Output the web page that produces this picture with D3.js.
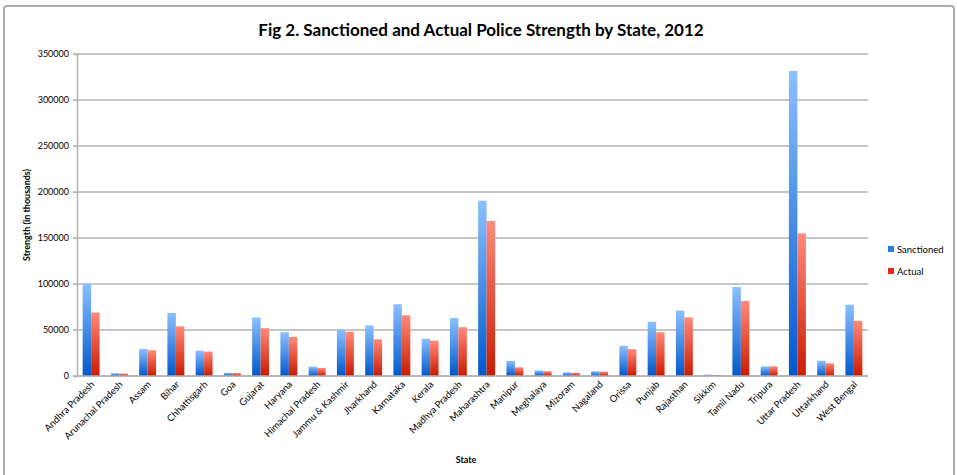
<!DOCTYPE html>
<meta charset="utf-8">
<script src="https://d3js.org/d3.v7.min.js"></script>
<style>
body { margin: 0; background: #fff; }
text { font-family: Lato, "Open Sans", sans-serif; fill: #000; }
</style>
<div id="my_dataviz"></div>
<script>

// data
var states = ["Andhra Pradesh", "Arunachal Pradesh", "Assam", "Bihar", "Chhattisgarh", "Goa",
  "Gujarat", "Haryana", "Himachal Pradesh", "Jammu & Kashmir", "Jharkhand", "Karnataka", "Kerala",
  "Madhya Pradesh", "Maharashtra", "Manipur", "Meghalaya", "Mizoram", "Nagaland", "Orissa", "Punjab",
  "Rajasthan", "Sikkim", "Tamil Nadu", "Tripura", "Uttar Pradesh", "Uttarkhand", "West Bengal"];
var sanctioned = [100500, 3000, 29500, 68500, 27500, 3400, 63500, 47500, 10200, 50500, 55000, 78000, 40500,
  63000, 190500, 16500, 6000, 4000, 5200, 32800, 59000, 71000, 1500, 96800, 10500, 331500, 16500, 77500];
var actual = [69000, 2600, 28000, 54000, 26500, 3200, 52000, 42500, 8800, 48000, 39800, 66000, 38500,
  53000, 168500, 9500, 5200, 3400, 4800, 29200, 47500, 63700, 1100, 81500, 10500, 155000, 13800, 60000];
var series = ["Sanctioned", "Actual"];
var yTicks = [0, 50000, 100000, 150000, 200000, 250000, 300000, 350000];

// plot box (window.top is taken, so use a margin object)
var W = 957, H = 475;
var plot = {left: 77, right: 868, top: 54, bottom: 376};

var svg = d3.select("#my_dataviz")
  .append("svg")
    .attr("width", W)
    .attr("height", H);

// gradients like the spreadsheet bars
var defs = svg.append("defs");
var grads = [["gradBlue", "#8cc0ff", "#0058cc"], ["gradRed", "#ff8a7a", "#cc1a00"]];
grads.forEach(function(g) {
  var lg = defs.append("linearGradient")
    .attr("id", g[0])
    .attr("x1", 0).attr("y1", 0).attr("x2", 0).attr("y2", 1);
  lg.append("stop").attr("offset", "0%").attr("stop-color", g[1]);
  lg.append("stop").attr("offset", "100%").attr("stop-color", g[2]);
});

// outer frame
svg.append("rect")
  .attr("x", 4).attr("y", 6)
  .attr("width", 950).attr("height", 480)
  .attr("rx", 3)
  .attr("fill", "none")
  .attr("stroke", "#ababab")
  .attr("stroke-width", 2);

// title
svg.append("text")
  .attr("x", 481)
  .attr("y", 36)
  .attr("text-anchor", "middle")
  .style("font-size", "17px")
  .style("font-weight", "bold")
  .text("Fig 2. Sanctioned and Actual Police Strength by State, 2012");

// scales
var x0 = d3.scaleBand()
  .domain(states)
  .range([plot.left, plot.right])
  .paddingInner(0.4)
  .paddingOuter(0.2);

var x1 = d3.scaleBand()
  .domain(series)
  .range([0, x0.bandwidth()]);

var y = d3.scaleLinear()
  .domain([0, 350000])
  .range([plot.bottom, plot.top]);

// grid lines
svg.append("g")
  .selectAll("line")
  .data(yTicks)
  .enter()
  .append("line")
    .attr("x1", plot.left - 4)
    .attr("x2", plot.right)
    .attr("y1", function(d) { return y(d); })
    .attr("y2", function(d) { return y(d); })
    .attr("stroke", "#b3b3b3")
    .attr("stroke-width", 1.5);

// Y axis
var yAxis = svg.append("g")
  .attr("transform", "translate(" + plot.left + ",0)")
  .call(d3.axisLeft(y).tickValues(yTicks).tickSize(4).tickPadding(4).tickFormat(d3.format("d")));
yAxis.select(".domain").attr("stroke", "#b3b3b3").attr("stroke-width", 1.5);
yAxis.selectAll(".tick line").attr("stroke", "#b3b3b3");
yAxis.selectAll("text").style("font-size", "9px").style("font-family", "Lato, sans-serif");

// bars
var rows = states.map(function(s, i) {
  return { state: s, values: [{ key: "Sanctioned", value: sanctioned[i] }, { key: "Actual", value: actual[i] }] };
});

svg.append("g")
  .selectAll("g")
  .data(rows)
  .enter()
  .append("g")
    .attr("transform", function(d) { return "translate(" + x0(d.state) + ",0)"; })
  .selectAll("rect")
  .data(function(d) { return d.values; })
  .enter()
  .append("rect")
    .attr("x", function(d) { return x1(d.key); })
    .attr("y", function(d) { return y(d.value); })
    .attr("width", x1.bandwidth())
    .attr("height", function(d) { return y(0) - y(d.value); })
    .attr("fill", function(d) { return d.key == "Sanctioned" ? "url(#gradBlue)" : "url(#gradRed)"; });

// X axis line
svg.append("line")
  .attr("x1", plot.left).attr("x2", plot.right)
  .attr("y1", plot.bottom).attr("y2", plot.bottom)
  .attr("stroke", "#b3b3b3")
  .attr("stroke-width", 1.5);

// X labels, rotated
svg.append("g")
  .selectAll("text")
  .data(states)
  .enter()
  .append("text")
    .attr("transform", function(d) {
      return "translate(" + (x0(d) + x0.bandwidth() / 2 + 4) + "," + (plot.bottom + 9) + ") rotate(-45)";
    })
    .attr("text-anchor", "end")
    .style("font-size", "9.5px")
    .text(function(d) { return d; });

// axis titles
svg.append("text")
  .attr("x", 466)
  .attr("y", 463)
  .attr("text-anchor", "middle")
  .style("font-size", "9px")
  .style("font-weight", "bold")
  .text("State");

svg.append("text")
  .attr("transform", "translate(30,215) rotate(-90)")
  .attr("text-anchor", "middle")
  .style("font-size", "9px")
  .style("font-weight", "bold")
  .text("Strength (in thousands)");

// legend
var legendColors = ["#2a7be8", "#e8261a"];
var legend = svg.append("g");
legend.selectAll("rect")
  .data(series)
  .enter()
  .append("rect")
    .attr("x", 888)
    .attr("y", function(d, i) { return 246 + i * 22; })
    .attr("width", 6)
    .attr("height", 6)
    .attr("fill", function(d, i) { return legendColors[i]; });
legend.selectAll("text")
  .data(series)
  .enter()
  .append("text")
    .attr("x", 897)
    .attr("y", function(d, i) { return 253 + i * 22; })
    .style("font-size", "9.5px")
    .text(function(d) { return d; });

</script>
